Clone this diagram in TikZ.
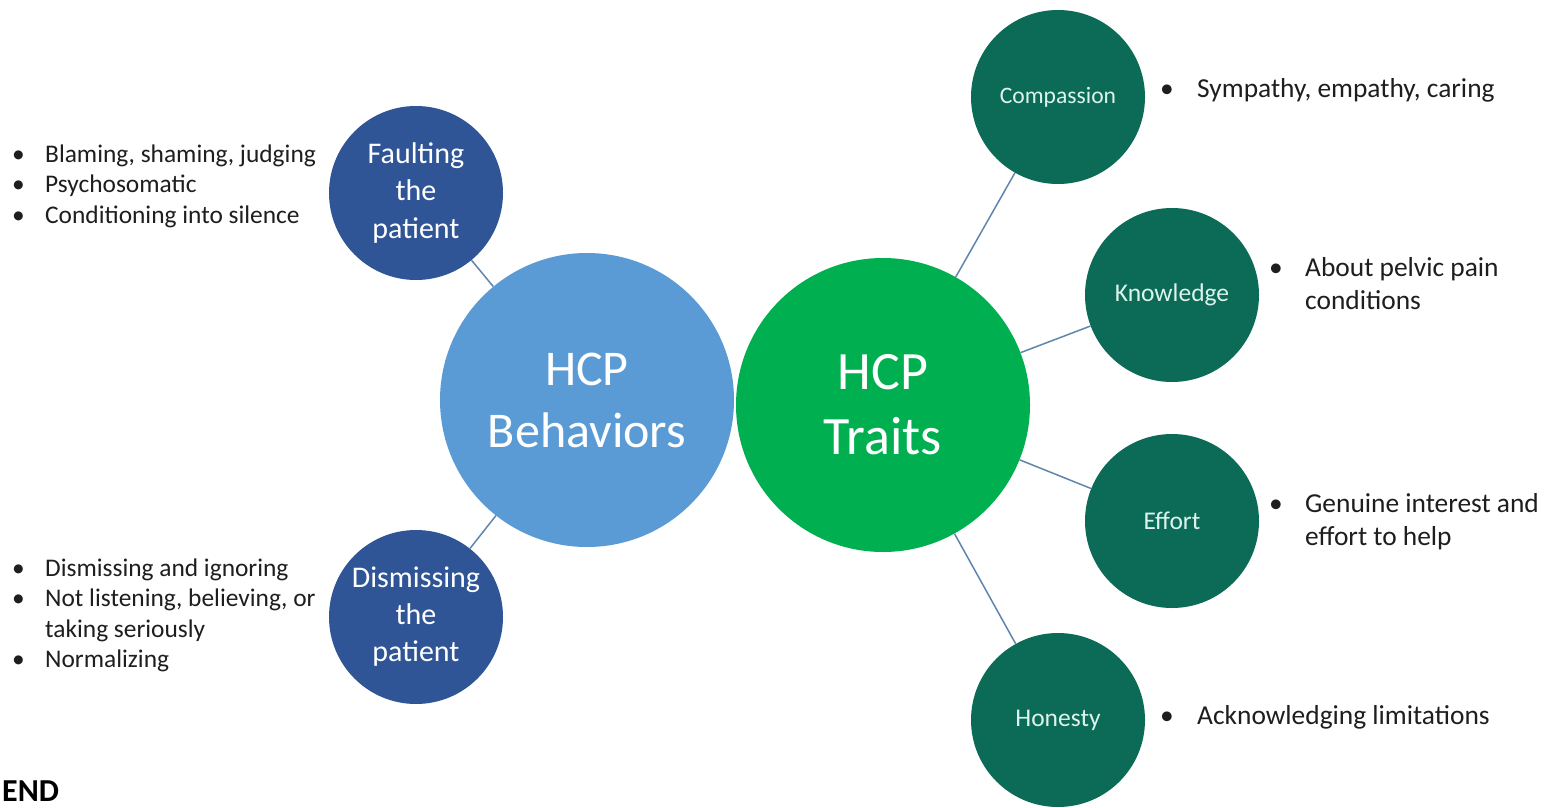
\documentclass[tikz,border=0pt]{standalone}
\usepackage{fontspec}
\setmainfont{Carlito}
\usepackage{array}
\definecolor{midblue}{HTML}{5B9BD5}
\definecolor{darkblue}{HTML}{2F5597}
\definecolor{brightgreen}{HTML}{00B050}
\definecolor{darkteal}{HTML}{0B6B56}
\definecolor{linkcol}{HTML}{5E86AE}
\definecolor{listtext}{HTML}{1E1E1E}
\definecolor{mint}{HTML}{DDF3EE}
\tikzset{
  bigcirc/.style={circle, inner sep=0pt, minimum size=294pt, text=white, align=center},
  subblue/.style={circle, inner sep=0pt, minimum size=174pt, fill=darkblue, text=white, align=center, font=\fontsize{30}{37}\selectfont},
  subteal/.style={circle, inner sep=0pt, minimum size=174pt, fill=darkteal, text=mint, align=center, font=\fontsize{25.5}{28}\selectfont},
  link/.style={draw=linkcol, line width=1.5pt},
  leftlist/.style={anchor=base west, inner sep=0pt, text=listtext, font=\fontsize{25.4}{30.5}\selectfont},
  rightlist/.style={anchor=base west, inner sep=0pt, text=listtext, font=\fontsize{27.4}{33}\selectfont}
}
\begin{document}
\begin{tikzpicture}[x=1pt,y=-1pt]
\useasboundingbox[fill=white] (0,0) rectangle (1547,808);
% main circles
\node[bigcirc, fill=midblue, font=\fontsize{50}{62}\selectfont] (beh) at (587,400) {HCP\\Behaviors};
\node[bigcirc, fill=brightgreen, font=\fontsize{54}{65}\selectfont] (tra) at (883,405) {HCP\\Traits};
% left sub circles
\node[subblue] (fault) at (416,193) {Faulting\\the\\patient};
\node[subblue] (dism) at (416,617) {Dismissing\\the\\patient};
% right sub circles
\node[subteal, font=\fontsize{23.6}{28}\selectfont] (comp) at (1058,97) {Compassion};
\node[subteal] (know) at (1172,295) {Knowledge};
\node[subteal] (eff) at (1172,521) {Effort};
\node[subteal] (hon) at (1058,720) {Honesty};
% connectors
\draw[link] (fault) -- (beh);
\draw[link] (dism) -- (beh);
\draw[link] (tra) -- (comp);
\draw[link] (tra) -- (know);
\draw[link] (tra) -- (eff);
\draw[link] (tra) -- (hon);
% lists
\node[leftlist] (l1) at (12,162) {\begin{tabular}[t]{@{}p{33pt}@{}l@{}}
\textbullet & Blaming, shaming, judging\\
\textbullet & Psychosomatic\\
\textbullet & Conditioning into silence
\end{tabular}};
\node[leftlist] (l2) at (12,576) {\begin{tabular}[t]{@{}p{33pt}@{}l@{}}
\textbullet & Dismissing and ignoring\\
\textbullet & Not listening, believing, or\\
 & taking seriously\\
\textbullet & Normalizing
\end{tabular}};
\node[rightlist] (r1) at (1160,97) {\begin{tabular}[t]{@{}p{37pt}@{}l@{}}
\textbullet & Sympathy, empathy, caring
\end{tabular}};
\node[rightlist] (r2) at (1269,276) {\begin{tabular}[t]{@{}p{36pt}@{}l@{}}
\textbullet & About pelvic pain\\
 & conditions
\end{tabular}};
\node[rightlist] (r3) at (1269,512) {\begin{tabular}[t]{@{}p{36pt}@{}l@{}}
\textbullet & Genuine interest and\\
 & effort to help
\end{tabular}};
\node[rightlist] (r4) at (1160,724) {\begin{tabular}[t]{@{}p{37pt}@{}l@{}}
\textbullet & Acknowledging limitations
\end{tabular}};
\node[anchor=base west, inner sep=0pt, font=\fontsize{32}{36}\selectfont\bfseries] (endlbl) at (2,801) {END};
\end{tikzpicture}
\end{document}
